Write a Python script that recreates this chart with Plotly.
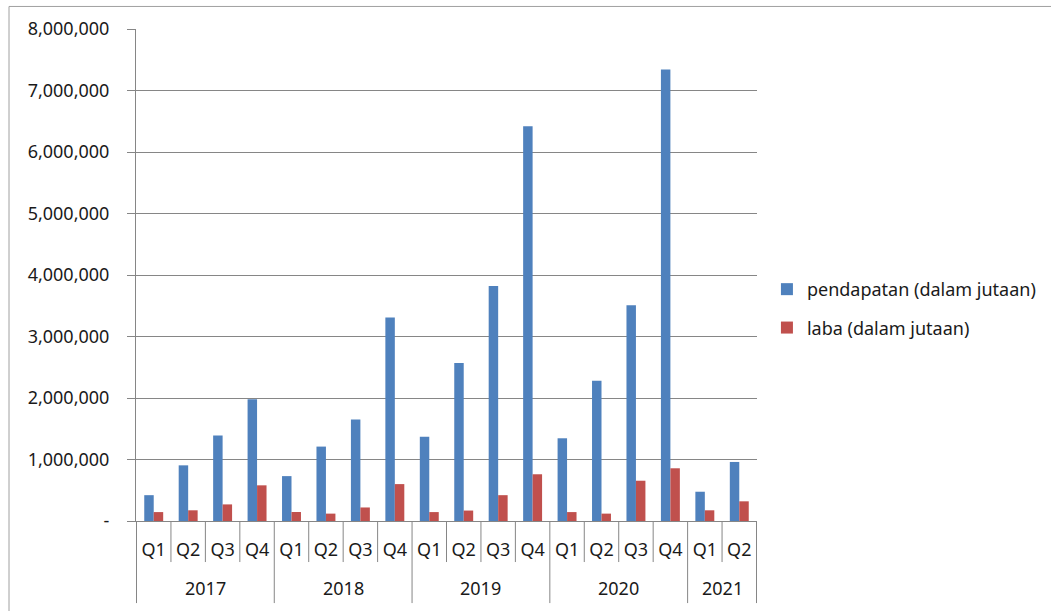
import plotly.graph_objects as go

years = ["2017"]*4 + ["2018"]*4 + ["2019"]*4 + ["2020"]*4 + ["2021"]*2
quarters = ["Q1", "Q2", "Q3", "Q4"]*4 + ["Q1", "Q2"]

pendapatan = [420000, 905000, 1390000, 1980000,
              730000, 1210000, 1650000, 3310000,
              1370000, 2570000, 3820000, 6420000,
              1345000, 2280000, 3510000, 7340000,
              476000, 960000]
laba = [145000, 174000, 270000, 580000,
        146000, 120000, 220000, 600000,
        145000, 170000, 420000, 760000,
        145000, 120000, 655000, 857000,
        174000, 320000]

ytickvals = [0, 1000000, 2000000, 3000000, 4000000, 5000000, 6000000, 7000000, 8000000]
yticktext = ["-", "1,000,000", "2,000,000", "3,000,000", "4,000,000",
             "5,000,000", "6,000,000", "7,000,000", "8,000,000"]

FONT = "Noto Sans"
FS = 18
GRID = "#868686"
TXT = "#1a1a1a"

cats = [f"{y} {q}" for y, q in zip(years, quarters)]
n = len(cats)

fig = go.Figure()
fig.add_trace(go.Bar(x=cats, y=pendapatan, name="pendapatan (dalam jutaan)",
                     marker=dict(color="#4F81BD", line=dict(width=0)), legendgroup="a"))
fig.add_trace(go.Bar(x=cats, y=laba, name="laba (dalam jutaan)",
                     marker=dict(color="#C0504D", line=dict(width=0)), legendgroup="b"))

# separators and year labels on the category axis (computed from the data lists)
Q_DEPTH = -0.0834
Y_DEPTH = -0.1668
shapes = []
annotations = []
year_order = []
for y in years:
    if y not in year_order:
        year_order.append(y)
for i in range(n + 1):
    is_year_edge = (i == 0 or i == n or years[i] != years[i - 1])
    shapes.append(dict(type="line", xref="x", yref="paper",
                       x0=i - 0.5, x1=i - 0.5, y0=0, y1=Y_DEPTH if is_year_edge else Q_DEPTH,
                       line=dict(color=GRID, width=1)))
for y in year_order:
    idx = [i for i, yy in enumerate(years) if yy == y]
    annotations.append(dict(x=sum(idx) / len(idx), xref="x", y=-0.1363, yref="paper",
                            text=y, showarrow=False, xanchor="center", yanchor="middle",
                            font=dict(family=FONT, size=FS, color=TXT)))
shapes.append(dict(type="rect", xref="paper", yref="paper",
                   x0=-0.2045, x1=1.6, y0=-0.3, y1=1.0458,
                   line=dict(color="#a0a0a0", width=1), layer="below"))

fig.update_layout(
    width=1051, height=611,
    margin=dict(l=136, r=294, t=29, b=90, autoexpand=False),
    paper_bgcolor="white", plot_bgcolor="white",
    barmode="group", bargap=0.45, bargroupgap=0,
    font=dict(family=FONT, size=FS, color=TXT),
    legend=dict(x=1.016, y=0.432, xanchor="left", yanchor="middle",
                font=dict(family=FONT, size=FS, color=TXT), tracegroupgap=12,
                itemwidth=30, bgcolor="rgba(0,0,0,0)"),
    shapes=shapes,
    annotations=annotations,
)
fig.update_yaxes(range=[0, 8000000], tickvals=ytickvals, ticktext=yticktext,
                 showgrid=True, gridcolor=GRID, gridwidth=1,
                 showline=True, linecolor=GRID, linewidth=1,
                 ticks="outside", ticklen=8, tickcolor=GRID, ticklabelstandoff=14,
                 tickfont=dict(family=FONT, size=FS, color=TXT), zeroline=False)
fig.update_xaxes(type="category", tickvals=cats, ticktext=quarters,
                 showline=True, linecolor=GRID, linewidth=1,
                 ticks="", ticklabelstandoff=12, showgrid=False,
                 tickfont=dict(family=FONT, size=FS, color=TXT))

fig.write_html("out.html")
